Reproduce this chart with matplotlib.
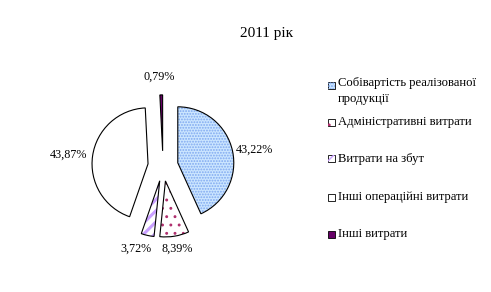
import matplotlib
matplotlib.use('Agg')
import matplotlib.pyplot as plt
from matplotlib.patches import Rectangle

plt.rcParams['font.family'] = ['Liberation Serif', 'DejaVu Serif']

# data
categories = ['Собівартість реалізованої\nпродукції', 'Адміністративні витрати',
	'Витрати на збут', 'Інші операційні витрати', 'Інші витрати']
shares = [43.22, 8.39, 3.72, 43.87, 0.79]
pct_labels = ['43,22%', '8,39%', '3,72%', '43,87%', '0,79%']
title = '2011 рік'

faces = ['#cce6ff', 'white', 'white', 'white', '#660066']
hatch_colors = ['#7fa8f0', '#b0306e', '#c9a0ff', 'white', '#660066']
hatches = ['......', '..', '///', None, None]
hatch_widths = [0.9, 0.9, 2.2, 0.9, 0.9]

# label positions in axes units (pie radius = 1)
label_pos = [(1.63, 0.29), (0.25, -1.47), (-0.48, -1.47), (-1.68, 0.2), (-0.07, 1.6)]

W, H = 491, 292
fig = plt.figure(figsize=(W / 100, H / 100), dpi=100)

# pie axes: centre (163, 166) px, radius 56 px
R = 56
cx, cy = 163, 166
ax = fig.add_axes([(cx - 1.5 * R) / W, (H - cy - 1.5 * R) / H, 3 * R / W, 3 * R / H])

explode = [0.27] * len(shares)
wedges, _ = ax.pie(shares, startangle=90, counterclock=False, explode=explode,
	colors=faces, radius=1, center=(0, 0), frame=True)
for w, hc, h, hw in zip(wedges, hatch_colors, hatches, hatch_widths):
	w.set_edgecolor(hc)
	w.set_linewidth(0)
	if h:
		w.set_hatch(h)
		if hasattr(w, 'set_hatch_linewidth'):
			w.set_hatch_linewidth(hw)
		else:
			w._hatch_linewidth = hw

# black outlines drawn over the hatched wedges
ax.pie(shares, startangle=90, counterclock=False, explode=explode,
	radius=1, center=(0, 0), frame=True,
	wedgeprops=dict(facecolor='none', edgecolor='black', linewidth=0.8))
ax.set_xlim(-1.5, 1.5)
ax.set_ylim(-1.5, 1.5)
ax.axis('off')

for (x, y), t in zip(label_pos, pct_labels):
	ax.text(x, y, t, ha='center', va='center', fontsize=8.7)

fig.text(267 / W, 1 - 33 / H, title, ha='center', va='center', fontsize=11)

# legend, drawn by hand
rows_y = [85, 122, 159, 197, 234]
for y, lab, fc, hc, h in zip(rows_y, categories, faces, hatch_colors, hatches):
	box = Rectangle((328 / W, 1 - (y + 3.5) / H), 7 / W, 7 / H,
		transform=fig.transFigure, facecolor=fc, edgecolor='black', linewidth=0.6)
	fig.patches.append(box)
	if h:
		hb = Rectangle((328 / W, 1 - (y + 3.5) / H), 7 / W, 7 / H,
			transform=fig.transFigure, facecolor='none', edgecolor=hc, linewidth=0, hatch=h)
		fig.patches.append(hb)
	if '\n' in lab:
		fig.text(338 / W, 1 - (y - 8) / H, lab, ha='left', va='top',
			fontsize=9.1, linespacing=1.45)
	else:
		fig.text(338 / W, 1 - y / H, lab, ha='left', va='center', fontsize=9.1)

fig.savefig('out.png', dpi=100)
